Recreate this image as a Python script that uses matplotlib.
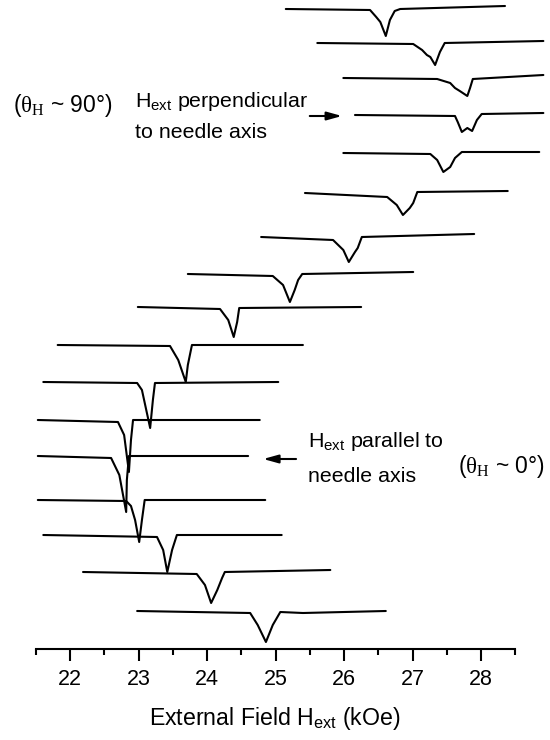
import matplotlib
matplotlib.use("Agg")
import matplotlib.pyplot as plt

plt.rcParams['font.family'] = ['Liberation Sans', 'DejaVu Sans']
plt.rcParams['mathtext.fontset'] = 'custom'
plt.rcParams['mathtext.rm'] = 'Liberation Serif'
plt.rcParams['mathtext.it'] = 'Liberation Serif:italic'
plt.rcParams['mathtext.sf'] = 'Liberation Sans'

# resonance traces, top (theta_H ~ 90) to bottom (theta_H ~ 0)
# field in kOe, signal in arb. units relative to each trace's own baseline
offsets = [640, 606, 571, 534, 496, 456, 412, 375, 342, 304, 267, 229, 193, 149, 114, 77, 38]

fields = [
    [25.15, 26.38, 26.47, 26.53, 26.61, 26.67, 26.74, 26.82, 28.35],
    [25.61, 27.01, 27.14, 27.21, 27.26, 27.33, 27.40, 27.47, 28.91],
    [25.99, 27.36, 27.55, 27.62, 27.69, 27.80, 27.84, 27.88, 28.91],
    [26.16, 27.62, 27.66, 27.72, 27.80, 27.87, 27.94, 28.01, 28.91],
    [25.99, 27.26, 27.36, 27.45, 27.55, 27.62, 27.72, 28.85],
    [25.43, 26.63, 26.77, 26.86, 26.96, 27.01, 27.07, 28.39],
    [24.79, 25.84, 25.99, 26.07, 26.16, 26.20, 26.26, 27.90],
    [23.72, 24.96, 25.11, 25.21, 25.28, 25.33, 25.39, 27.01],
    [22.99, 24.19, 24.31, 24.39, 24.44, 24.47, 26.25],
    [21.82, 23.46, 23.58, 23.69, 23.72, 23.78, 25.40],
    [21.61, 22.98, 23.05, 23.17, 23.21, 23.24, 25.04],
    [21.53, 22.70, 22.79, 22.86, 22.89, 22.92, 24.77],
    [21.53, 22.60, 22.72, 22.82, 22.83, 22.86, 24.60],
    [21.53, 22.82, 22.89, 22.95, 23.01, 23.05, 23.09, 24.85],
    [21.61, 23.27, 23.36, 23.42, 23.49, 23.56, 25.09],
    [22.19, 23.85, 23.97, 24.06, 24.15, 24.22, 24.26, 25.80],
    [22.98, 24.63, 24.74, 24.86, 24.96, 25.07, 25.40, 26.61],
]

signals = [
    [0, -1, -8, -13, -27, -11, -2, 0, 3],
    [0, -1, -7, -12, -14, -22, -9, 0, 2],
    [0, -1, -5, -10, -13, -18, -10, -1, 3],
    [0, -1, -7, -17, -13, -16, -5, 1, 2],
    [0, -1, -7, -19, -14, -5, 1, 1],
    [0, -4, -12, -22, -15, -10, 1, 2],
    [0, -3, -13, -25, -15, -11, 0, 3],
    [0, -2, -11, -28, -16, -6, 0, 2],
    [0, -2, -13, -30, -15, -1, 0],
    [0, -1, -15, -37, -20, 0, 0],
    [0, -1, -8, -46, -18, -1, 0],
    [0, -2, -15, -52, -20, 0, 0],
    [0, -2, -19, -56, -24, 0, 0],
    [0, -1, -6, -20, -42, -20, 0, 0],
    [0, -2, -15, -37, -15, 0, 0],
    [0, -2, -13, -31, -18, -6, 0, 2],
    [0, -2, -14, -31, -14, -1, -2, 0],
]

major_ticks = [22, 23, 24, 25, 26, 27, 28]
minor_ticks = [21.5, 22.5, 23.5, 24.5, 25.5, 26.5, 27.5, 28.5]


def main():
    fig = plt.figure(figsize=(5.5, 7.4), dpi=100)
    ax = fig.add_axes([0, 91 / 740, 1, 649 / 740])

    for h, s, off in zip(fields, signals, offsets):
        ax.plot(h, [v + off for v in s], color="black", lw=1.5,
                solid_joinstyle="round", solid_capstyle="round")

    ax.set_xlim(20.978, 29.007)
    ax.set_ylim(0, 649)
    for side in ["left", "right", "top"]:
        ax.spines[side].set_visible(False)
    ax.spines["bottom"].set_bounds(21.5, 28.5)
    ax.spines["bottom"].set_linewidth(1.5)
    ax.set_yticks([])
    ax.set_xticks(major_ticks)
    ax.set_xticks(minor_ticks, minor=True)
    ax.tick_params(axis="x", which="major", length=8.5, width=1.5, labelsize=15.5, pad=6)
    ax.tick_params(axis="x", which="minor", length=4.5, width=1.5)
    ax.set_xlabel(r"External Field H$_\mathregular{ext}$ (kOe)", fontsize=16.7, labelpad=11)

    # annotations
    ax.text(21.17, 537, r"($\mathrm{θ_H}$ ~ 90°)", fontsize=16.5)
    ax.text(22.95, 542, r"H$_\mathregular{ext}$ perpendicular", fontsize=15.4)
    ax.text(22.95, 511, "to needle axis", fontsize=15.4)
    ax.annotate("", xy=(25.97, 533), xytext=(25.50, 533),
                arrowprops=dict(arrowstyle="-|>,head_length=0.9,head_width=0.25",
                                lw=1.5, color="black", shrinkA=0, shrinkB=0))

    ax.text(25.47, 202, r"H$_\mathregular{ext}$ parallel to", fontsize=15.4)
    ax.text(25.47, 167, "needle axis", fontsize=15.4)
    ax.text(27.66, 176, r"($\mathrm{θ_H}$ ~ 0°)", fontsize=16.5)
    ax.annotate("", xy=(24.82, 190), xytext=(25.30, 190),
                arrowprops=dict(arrowstyle="-|>,head_length=0.9,head_width=0.25",
                                lw=1.5, color="black", shrinkA=0, shrinkB=0))

    fig.savefig("out.png", dpi=100)
    plt.close(fig)


if __name__ == "__main__":
    main()
